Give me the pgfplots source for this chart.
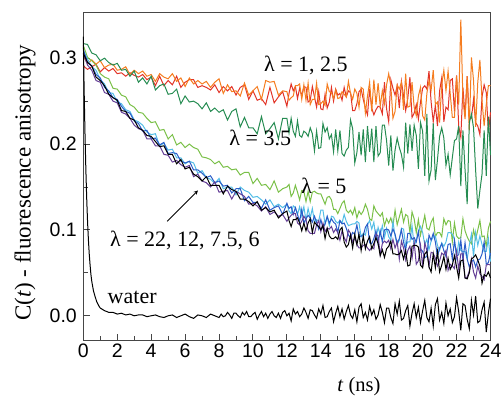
\documentclass[border=0pt]{standalone}
\usepackage{fontspec}
\setmainfont{Liberation Serif}
\setsansfont{Liberation Sans}
\usepackage{pgfplots}
\usepackage{pgfplotstable}
\pgfplotsset{compat=1.18}
\definecolor{cOr}{RGB}{245,125,32}
\definecolor{cRd}{RGB}{226,52,40}
\definecolor{cDg}{RGB}{38,140,82}
\definecolor{cLg}{RGB}{122,192,72}
\definecolor{cCy}{RGB}{84,190,230}
\definecolor{cBl}{RGB}{42,92,200}
\definecolor{cPu}{RGB}{100,62,150}
\definecolor{cAx}{RGB}{70,70,70}

\pgfplotstableread{
t or rd dg lg cy bl pu bk
0 .302 .291 .317 .315 .309 .310 .305 .306
0.25 .294 .287 .316 .301 .299 .295 .292 .295
0.5 .298 .290 .306 .297 .290 .291 .286 .291
0.75 .293 .293 .304 .292 .286 .281 .274 .278
1 .297 .284 .297 .282 .275 .277 .272 .274
1.25 .289 .289 .300 .278 .270 .266 .260 .268
1.5 .292 .285 .295 .276 .260 .262 .258 .258
1.75 .293 .288 .292 .265 .259 .254 .250 .254
2 .286 .282 .294 .264 .249 .252 .248 .251
2.25 .287 .283 .286 .257 .247 .244 .237 .239
2.5 .290 .279 .287 .255 .240 .238 .235 .238
2.75 .281 .283 .279 .246 .238 .236 .230 .230
3 .286 .280 .285 .243 .228 .227 .222 .228
3.25 .282 .278 .272 .237 .226 .224 .218 .219
3.5 .285 .281 .277 .236 .222 .215 .216 .216
3.75 .279 .275 .270 .230 .214 .216 .206 .210
4 .281 .278 .279 .225 .211 .206 .206 .209
4.25 .273 .268 .263 .226 .212 .207 .198 .203
4.5 .282 .279 .268 .216 .198 .199 .198 .197
4.75 .278 .268 .270 .217 .201 .202 .188 .198
5 .276 .274 .258 .206 .193 .189 .187 .188
5.25 .282 .269 .259 .211 .194 .190 .179 .188
5.5 .273 .279 .264 .199 .184 .189 .181 .177
5.75 .277 .266 .247 .202 .184 .180 .176 .182
6 .267 .272 .256 .196 .177 .178 .173 .171
6.25 .277 .275 .249 .200 .180 .180 .175 .173
6.5 .270 .275 .250 .196 .178 .170 .162 .165
6.75 .274 .266 .247 .194 .166 .170 .165 .162
7 .270 .268 .241 .185 .169 .166 .157 .157
7.25 .273 .266 .248 .184 .161 .161 .155 .162
7.5 .266 .263 .238 .182 .159 .163 .150 .152
7.75 .272 .269 .242 .177 .154 .155 .156 .152
8 .276 .260 .237 .180 .160 .157 .144 .152
8.25 .259 .267 .240 .173 .148 .151 .145 .142
8.5 .269 .262 .228 .174 .150 .152 .146 .151
8.75 .261 .267 .238 .170 .150 .143 .136 .147
9 .262 .257 .241 .171 .141 .148 .145 .145
9.25 .256 .266 .220 .164 .150 .148 .142 .136
9.5 .271 .269 .231 .167 .146 .134 .139 .136
9.75 .257 .252 .219 .167 .144 .139 .130 .133
10 .262 .262 .219 .154 .138 .132 .131 .128
10.25 .267 .251 .212 .160 .139 .132 .128 .133
10.5 .252 .253 .232 .152 .135 .125 .122 .123
10.75 .274 .246 .212 .153 .130 .135 .127 .126
11 .272 .266 .218 .147 .135 .123 .118 .121
11.25 .273 .248 .225 .157 .127 .126 .121 .123
11.5 .257 .255 .206 .144 .130 .128 .116 .114
11.75 .262 .261 .230 .148 .126 .118 .118 .119
12 .261 .244 .230 .150 .130 .131 .110 .122
12.125 .251 .259 .213 .153 .122 .125 .114 .111
12.25 .254 .270 .230 .139 .119 .127 .117 .104
12.375 .256 .262 .215 .143 .128 .118 .119 .112
12.5 .268 .267 .209 .152 .126 .126 .119 .112
12.625 .268 .253 .227 .144 .118 .118 .108 .114
12.75 .270 .265 .210 .135 .127 .110 .106 .108
12.875 .252 .256 .208 .146 .116 .124 .110 .099
13 .269 .267 .215 .145 .127 .108 .116 .108
13.125 .251 .266 .213 .133 .111 .113 .112 .099
13.25 .271 .249 .209 .145 .125 .117 .099 .108
13.375 .246 .251 .219 .133 .114 .114 .096 .113
13.5 .252 .267 .212 .144 .125 .109 .096 .097
13.625 .252 .255 .192 .145 .109 .116 .096 .109
13.75 .271 .243 .215 .143 .112 .109 .106 .106
13.875 .246 .261 .195 .142 .110 .101 .111 .104
14 .247 .241 .196 .142 .123 .112 .098 .100
14.125 .250 .240 .224 .136 .123 .102 .108 .105
14.25 .245 .258 .214 .130 .107 .107 .098 .090
14.375 .270 .242 .219 .138 .115 .116 .102 .102
14.5 .261 .249 .206 .139 .105 .108 .101 .093
14.625 .260 .266 .211 .135 .116 .113 .104 .090
14.75 .253 .250 .191 .124 .115 .109 .097 .090
14.875 .263 .264 .217 .124 .110 .107 .101 .092
15 .253 .257 .192 .119 .108 .097 .097 .089
15.125 .254 .259 .216 .125 .111 .111 .088 .100
15.25 .261 .251 .189 .131 .108 .107 .099 .103
15.375 .258 .266 .186 .134 .118 .108 .091 .086
15.5 .255 .255 .193 .123 .110 .102 .086 .080
15.625 .273 .262 .196 .120 .105 .094 .100 .083
15.75 .259 .260 .228 .123 .106 .091 .096 .094
15.875 .252 .239 .218 .118 .107 .097 .086 .079
16 .264 .239 .178 .126 .107 .095 .091 .095
16.125 .259 .247 .190 .114 .110 .106 .083 .083
16.25 .243 .261 .214 .122 .108 .092 .079 .095
16.375 .266 .264 .187 .118 .092 .093 .079 .076
16.5 .264 .252 .217 .122 .096 .093 .082 .093
16.625 .236 .242 .179 .130 .094 .103 .083 .078
16.75 .256 .234 .221 .124 .106 .107 .079 .087
16.875 .272 .264 .191 .113 .111 .085 .076 .092
17 .238 .242 .218 .111 .101 .084 .080 .078
17.125 .275 .234 .179 .128 .109 .090 .078 .084
17.25 .246 .240 .221 .122 .090 .099 .095 .091
17.375 .271 .244 .186 .119 .103 .084 .093 .084
17.5 .244 .243 .190 .116 .094 .099 .071 .070
17.625 .262 .235 .222 .120 .105 .086 .084 .077
17.75 .247 .272 .222 .105 .091 .100 .087 .068
17.875 .269 .241 .204 .113 .102 .101 .085 .078
18 .282 .226 .175 .108 .092 .100 .088 .081
18.125 .268 .275 .210 .114 .088 .093 .078 .087
18.25 .230 .265 .169 .105 .110 .101 .089 .072
18.375 .238 .257 .193 .123 .093 .095 .079 .072
18.5 .269 .268 .207 .106 .083 .084 .086 .071
18.625 .264 .242 .196 .115 .088 .090 .066 .072
18.75 .272 .273 .188 .124 .102 .100 .087 .076
18.875 .240 .256 .173 .109 .101 .086 .079 .066
19 .282 .239 .225 .118 .081 .076 .065 .076
19.125 .243 .253 .189 .116 .086 .096 .076 .058
19.25 .244 .278 .223 .097 .086 .096 .081 .059
19.375 .272 .231 .192 .121 .105 .089 .067 .081
19.5 .243 .236 .222 .113 .081 .091 .086 .082
19.625 .233 .246 .210 .097 .088 .086 .060 .082
19.75 .256 .229 .171 .112 .098 .098 .064 .080
19.875 .266 .249 .225 .094 .104 .078 .082 .059
20 .233 .265 .215 .105 .097 .075 .057 .056
20.125 .228 .268 .163 .117 .083 .068 .085 .072
20.25 .259 .264 .235 .102 .089 .069 .076 .075
20.375 .274 .285 .157 .100 .077 .094 .058 .057
20.5 .263 .249 .170 .109 .087 .088 .074 .051
20.625 .286 .226 .224 .114 .092 .096 .073 .072
20.75 .246 .245 .158 .092 .093 .086 .067 .056
20.875 .249 .221 .182 .097 .082 .069 .058 .075
21 .225 .262 .209 .097 .076 .079 .064 .051
21.125 .269 .277 .219 .092 .085 .084 .073 .059
21.25 .286 .226 .207 .113 .081 .076 .071 .069
21.375 .262 .243 .175 .106 .086 .069 .076 .054
21.5 .285 .240 .188 .111 .097 .083 .053 .067
21.625 .259 .274 .164 .110 .097 .084 .060 .054
21.75 .231 .276 .184 .086 .095 .066 .058 .059
21.875 .231 .238 .204 .108 .089 .088 .055 .070
22 .279 .280 .206 .093 .068 .070 .075 .057
22.125 .246 .221 .221 .090 .086 .071 .054 .044
22.25 .345 .208 .151 .091 .076 .088 .072 .064
22.375 .252 .266 .216 .113 .075 .065 .072 .065
22.5 .229 .232 .170 .099 .075 .085 .044 .044
22.625 .279 .279 .130 .092 .066 .066 .045 .043
22.75 .216 .229 .225 .087 .082 .057 .052 .050
22.875 .301 .230 .235 .084 .095 .063 .066 .066
23 .274 .252 .219 .100 .069 .065 .051 .068
23.125 .220 .225 .169 .089 .097 .057 .044 .071
23.25 .272 .221 .125 .100 .082 .065 .058 .065
23.375 .298 .211 .146 .111 .093 .066 .049 .058
23.5 .251 .255 .165 .092 .083 .072 .046 .038
23.625 .221 .269 .216 .093 .075 .086 .042 .048
23.75 .246 .260 .163 .081 .075 .060 .059 .046
23.875 .268 .213 .232 .102 .090 .062 .060 .051
24 .268 .237 .187 .110 .063 .073 .059 .044
}\aniso

\pgfplotstableread{
t wa
0 .325
0.05 .262
0.1 .212
0.15 .171
0.2 .137
0.25 .110
0.3 .089
0.35 .072
0.4 .059
0.45 .048
0.5 .040
0.6 .029
0.7 .022
0.8 .016
0.9 .012
1 .009
1.25 .006
1.5 .004
1.75 .004
2 .002
2.25 .003
2.5 .001
2.75 .002
3 .000
3.25 .001
3.5 .001
3.75 -.001
4 .000
4.25 .001
4.5 -.001
4.75 -.002
5 .000
5.25 .001
5.5 -.002
5.75 .000
6 .002
6.25 -.001
6.5 -.003
6.75 .001
7 .000
7.25 -.002
7.5 .002
7.75 .000
8 -.002
8.125 .002
8.25 -.001
8.375 .000
8.5 .004
8.625 .001
8.75 -.003
8.875 .003
9 .003
9.125 .000
9.25 -.002
9.375 .004
9.5 .001
9.625 .005
9.75 -.001
9.875 -.001
10 .002
10.125 .004
10.25 -.004
10.375 .001
10.5 .005
10.625 -.001
10.75 .003
10.875 -.003
11 .002
11.125 .005
11.25 .000
11.375 -.002
11.5 .003
11.625 -.003
11.75 .004
11.875 .006
12 .000
12.125 .003
12.25 -.006
12.375 .008
12.5 .002
12.625 .005
12.75 -.001
12.875 .002
13 .009
13.125 .004
13.25 -.003
13.375 .007
13.5 .006
13.625 .001
13.75 -.003
13.875 .008
14 .002
14.125 .012
14.25 -.002
14.375 -.001
14.5 .005
14.625 .009
14.75 -.007
14.875 .003
15 .011
15.125 -.001
15.25 .008
15.375 -.004
15.5 .005
15.625 .012
15.75 .001
15.875 -.003
16 .007
16.125 -.007
16.25 .010
16.375 .014
16.5 -.002
16.625 .004
16.75 -.005
16.875 .011
17 .001
17.125 .007
17.25 -.004
17.375 .001
17.5 .013
17.625 .004
17.75 -.008
17.875 .009
18 .009
18.125 -.002
18.25 -.009
18.375 .014
18.5 .002
18.625 .017
18.75 -.005
18.875 -.003
19 .006
19.125 .012
19.25 -.012
19.375 .003
19.5 .014
19.625 -.002
19.75 .010
19.875 -.008
20 .006
20.125 .018
20.25 -.002
20.375 -.007
20.5 .009
20.625 -.012
20.75 .013
20.875 .020
21 -.005
21.125 .004
21.25 -.009
21.375 .015
21.5 .000
21.625 .008
21.75 -.008
21.875 -.001
22 .021
22.125 .005
22.25 -.017
22.375 .014
22.5 .012
22.625 -.004
22.75 -.015
22.875 .018
23 .001
23.125 .023
23.25 -.008
23.375 -.006
23.5 .007
23.625 .016
23.75 -.019
23.875 .003
24 .020
}\water

\begin{document}
\begin{tikzpicture}
\begin{axis}[
  scale only axis, width=407.2pt, height=328pt,
  xmin=0, xmax=24, ymin=-0.029, ymax=0.353,
  xtick={0,2,...,24}, minor x tick num=1,
  ytick={0,0.1,0.2,0.3}, minor y tick num=1,
  xtick pos=left, ytick pos=left,
  tick align=inside,
  major tick length=7pt, minor tick length=4.5pt,
  axis line style={draw=cAx, line width=1.3pt},
  tick style={cAx, line width=1pt},
  tick label style={font=\fontsize{19.5}{22}\selectfont\sffamily},
  /pgf/number format/assume math mode=true,
  yticklabel style={xshift=-3pt, /pgf/number format/fixed, /pgf/number format/fixed zerofill, /pgf/number format/precision=1},
  xticklabel style={/pgf/number format/fixed},
  clip=false,
  every axis plot/.append style={line width=1.0pt},
]
\coordinate (sw) at (rel axis cs:0,0);
\addplot[cRd] table[x=t,y=rd]{\aniso};
\addplot[cOr] table[x=t,y=or]{\aniso};
\addplot[cDg] table[x=t,y=dg]{\aniso};
\addplot[cLg] table[x=t,y=lg]{\aniso};
\addplot[cCy] table[x=t,y=cy]{\aniso};
\addplot[cBl] table[x=t,y=bl]{\aniso};
\addplot[cPu] table[x=t,y=pu]{\aniso};
\addplot[black] table[x=t,y=bk]{\aniso};
\addplot[black] table[x=t,y=wa]{\water};

\node[font=\fontsize{22}{24}\selectfont] at (axis cs:13.12,0.292) {λ = 1, 2.5};
\node[font=\fontsize{22}{24}\selectfont] at (axis cs:10.43,0.207) {λ = 3.5};
\node[font=\fontsize{22}{24}\selectfont] at (axis cs:14.18,0.151) {λ = 5};
\node[font=\fontsize{22}{24}\selectfont] at (axis cs:5.99,0.088) {λ = 22, 12, 7.5, 6};
\node[font=\fontsize{22}{24}\selectfont] at (axis cs:2.88,0.0218) {water};
\draw[-stealth, line width=0.9pt] (axis cs:4.94,0.110) -- (axis cs:6.76,0.146);

\node[font=\fontsize{20.5}{23}\selectfont] at (rel axis cs:0.677,-0.140) {\textit{t} (ns)};
\node[rotate=90, font=\fontsize{23}{26}\selectfont] at (rel axis cs:-0.143,0.482) {C(\textit{t}) - fluorescence anisotropy};
\end{axis}
\pgfresetboundingbox
\path (sw) ++(-83.3pt,-57.3pt) rectangle ++(502pt,398pt);
\end{tikzpicture}
\end{document}
